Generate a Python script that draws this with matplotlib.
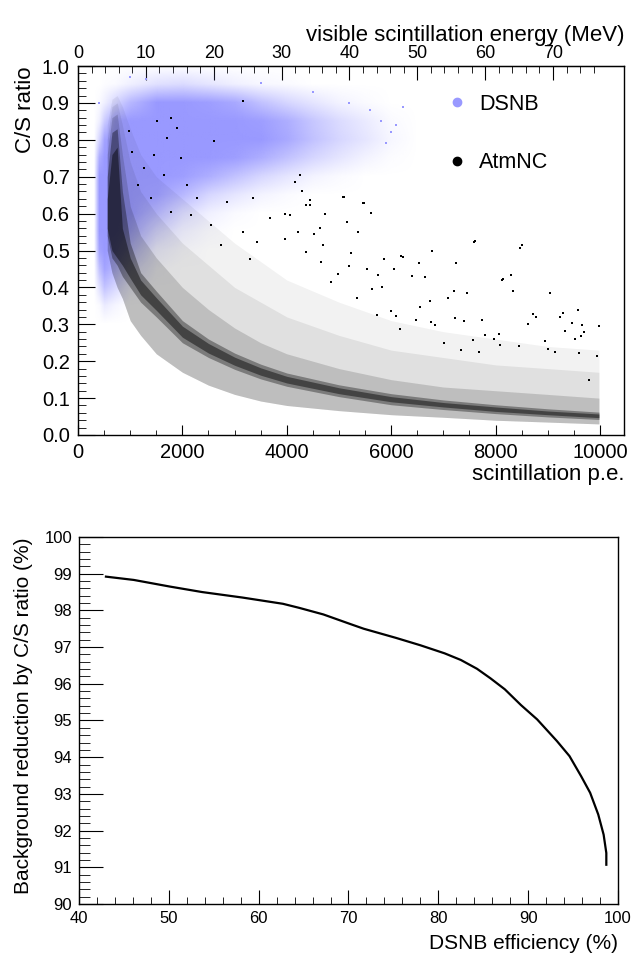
import matplotlib
matplotlib.use("Agg")
import numpy as np
import matplotlib.pyplot as plt
from matplotlib.lines import Line2D
from matplotlib.image import NonUniformImage
from matplotlib.colors import LinearSegmentedColormap
from matplotlib.ticker import MultipleLocator, FixedLocator

plt.rcParams['font.family'] = ['Liberation Sans', 'DejaVu Sans']

PE_PER_MEV = 130.0
DSNB_COLOR = '#9999ff'

# DSNB event density (0..1), on a p.e. x C/S grid
dsnb_pe = [300, 400, 500, 700, 1000, 1500, 2000, 2500, 3000, 3500, 4000, 4500, 5000, 5500, 6000, 6500]
dsnb_cs = [0.30, 0.35, 0.40, 0.45, 0.50, 0.55, 0.60, 0.65, 0.70, 0.75, 0.80, 0.85, 0.90, 0.95, 1.00]
dsnb_density = [
    # one row per C/S value, one column per p.e. value
    [0, 0.00, 0.00, 0.00, 0.00, 0.00, 0.00, 0.00, 0.00, 0.00, 0.00, 0.00, 0.00, 0.00, 0.00, 0],  # 0.30
    [0, 0.05, 0.20, 0.10, 0.00, 0.00, 0.00, 0.00, 0.00, 0.00, 0.00, 0.00, 0.00, 0.00, 0.00, 0],  # 0.35
    [0, 0.30, 0.60, 0.40, 0.10, 0.00, 0.00, 0.00, 0.00, 0.00, 0.00, 0.00, 0.00, 0.00, 0.00, 0],  # 0.40
    [0, 0.60, 0.90, 0.70, 0.30, 0.05, 0.00, 0.00, 0.00, 0.00, 0.00, 0.00, 0.00, 0.00, 0.00, 0],  # 0.45
    [0, 0.90, 1.00, 0.90, 0.60, 0.15, 0.05, 0.00, 0.00, 0.00, 0.00, 0.00, 0.00, 0.00, 0.00, 0],  # 0.50
    [0, 1.00, 1.00, 1.00, 0.85, 0.40, 0.15, 0.05, 0.00, 0.00, 0.00, 0.00, 0.00, 0.00, 0.00, 0],  # 0.55
    [0, 1.00, 1.00, 1.00, 1.00, 0.70, 0.35, 0.15, 0.05, 0.00, 0.00, 0.00, 0.00, 0.00, 0.00, 0],  # 0.60
    [0, 1.00, 1.00, 1.00, 1.00, 0.95, 0.70, 0.40, 0.25, 0.12, 0.05, 0.00, 0.00, 0.00, 0.00, 0],  # 0.65
    [0, 1.00, 1.00, 1.00, 1.00, 1.00, 0.95, 0.80, 0.60, 0.40, 0.25, 0.12, 0.05, 0.00, 0.00, 0],  # 0.70
    [0, 0.80, 1.00, 1.00, 1.00, 1.00, 1.00, 1.00, 0.95, 0.80, 0.60, 0.40, 0.25, 0.12, 0.03, 0],  # 0.75
    [0, 0.40, 0.90, 1.00, 1.00, 1.00, 1.00, 1.00, 1.00, 1.00, 0.85, 0.60, 0.40, 0.25, 0.08, 0],  # 0.80
    [0, 0.15, 0.50, 0.90, 1.00, 1.00, 1.00, 1.00, 1.00, 0.95, 0.80, 0.55, 0.35, 0.20, 0.05, 0],  # 0.85
    [0, 0.05, 0.15, 0.40, 0.70, 1.00, 1.00, 0.95, 0.85, 0.60, 0.40, 0.25, 0.12, 0.05, 0.00, 0],  # 0.90
    [0, 0.00, 0.03, 0.05, 0.15, 0.30, 0.35, 0.25, 0.15, 0.08, 0.05, 0.00, 0.00, 0.00, 0.00, 0],  # 0.95
    [0, 0.00, 0.00, 0.00, 0.00, 0.00, 0.00, 0.00, 0.00, 0.00, 0.00, 0.00, 0.00, 0.00, 0.00, 0],  # 1.00
]
dsnb_dots_x = [6230, 6000, 5800, 5900, 5600, 400, 1000, 1300, 4500, 3500, 5200, 6100]
dsnb_dots_y = [0.89, 0.82, 0.85, 0.79, 0.88, 0.90, 0.97, 0.965, 0.93, 0.955, 0.90, 0.84]

# AtmNC band outlines: for each p.e. value, C/S of the lower edge, the dense band,
# the halo above it and the sparse spread further up
atm_pe = [560, 650, 750, 850, 1000, 1200, 1500, 2000, 2500, 3000, 3500, 4000, 5000, 6000, 7000, 8000, 9000, 9980]
atm_edge_lo = [0.50, 0.44, 0.40, 0.37, 0.31, 0.27, 0.22, 0.17, 0.135, 0.11, 0.092, 0.08, 0.066, 0.055, 0.048, 0.04, 0.035, 0.03]
atm_band_lo = [0.54, 0.48, 0.46, 0.43, 0.40, 0.36, 0.32, 0.25, 0.21, 0.178, 0.152, 0.132, 0.104, 0.082, 0.069, 0.058, 0.049, 0.042]
atm_core_lo = [0.56, 0.50, 0.48, 0.46, 0.425, 0.38, 0.338, 0.265, 0.222, 0.189, 0.162, 0.141, 0.112, 0.09, 0.076, 0.064, 0.055, 0.047]
atm_core_hi = [0.64, 0.76, 0.78, 0.56, 0.48, 0.42, 0.372, 0.295, 0.248, 0.211, 0.182, 0.159, 0.128, 0.104, 0.088, 0.076, 0.065, 0.057]
atm_band_hi = [0.70, 0.82, 0.83, 0.66, 0.52, 0.44, 0.39, 0.31, 0.26, 0.222, 0.192, 0.168, 0.136, 0.112, 0.095, 0.082, 0.071, 0.062]
atm_halo_hi = [0.76, 0.86, 0.87, 0.76, 0.62, 0.54, 0.48, 0.40, 0.34, 0.29, 0.25, 0.22, 0.18, 0.15, 0.13, 0.12, 0.11, 0.10]
atm_spread_mid = [0.80, 0.89, 0.90, 0.84, 0.74, 0.66, 0.60, 0.52, 0.46, 0.40, 0.36, 0.32, 0.27, 0.23, 0.21, 0.19, 0.18, 0.17]
atm_spread_hi = [0.84, 0.91, 0.92, 0.89, 0.83, 0.76, 0.70, 0.64, 0.58, 0.52, 0.47, 0.42, 0.36, 0.31, 0.28, 0.26, 0.24, 0.23]

# isolated AtmNC events
atm_dots_x = [1775, 1900, 1710, 1450, 1965, 1260, 1640, 2090, 1140, 2280, 1390, 2600, 3170, 1040,
              980, 1520, 1775, 2160, 2540, 2860, 3360, 3680, 4060, 4260, 4450, 5080, 5460, 4700,
              6220, 3170, 2730, 3430, 3300,
              5100, 5470, 5620, 5150, 5370, 4740, 7600, 8510, 6780, 6190, 5860, 6530, 7250, 6050,
              6640, 6390, 8150, 8290, 8330, 9050, 7450, 7200, 7080, 6740, 6560, 8720, 9580, 9290,
              9980, 9660, 9470, 9330, 9700, 8950, 8620, 8060, 7740, 7400, 7230, 6840, 6470, 7800,
              7960, 7570, 9520, 9600, 9940, 9140, 9000, 8450, 8080, 7690, 7340, 7020, 6770, 6160,
              5990, 5720, 6090, 5540, 5740, 5640, 5830, 5350, 5190, 5230, 4980, 4840, 4660, 4370,
              4440, 4370, 3960, 3970, 4210, 4520, 4640, 4300, 4160, 7580, 8120, 8470, 9780, 9630,
              9240, 8780]
atm_dots_y = [0.859, 0.832, 0.804, 0.759, 0.750, 0.723, 0.705, 0.678, 0.678, 0.641, 0.641, 0.796,
              0.905, 0.768, 0.823, 0.850, 0.605, 0.596, 0.569, 0.632, 0.641, 0.587, 0.596, 0.705,
              0.623, 0.646, 0.628, 0.514, 0.483, 0.551, 0.514, 0.524, 0.478,
              0.644, 0.628, 0.601, 0.576, 0.549, 0.598, 0.527, 0.514, 0.500, 0.486, 0.476, 0.467,
              0.465, 0.449, 0.427, 0.430, 0.424, 0.433, 0.390, 0.386, 0.384, 0.391, 0.372, 0.362,
              0.348, 0.327, 0.340, 0.330, 0.296, 0.297, 0.304, 0.283, 0.280, 0.254, 0.302, 0.275,
              0.313, 0.310, 0.318, 0.299, 0.312, 0.270, 0.261, 0.258, 0.260, 0.223, 0.215, 0.225,
              0.232, 0.240, 0.243, 0.225, 0.229, 0.250, 0.307, 0.286, 0.337, 0.326, 0.323, 0.451,
              0.433, 0.397, 0.401, 0.372, 0.457, 0.492, 0.437, 0.415, 0.470, 0.495, 0.636, 0.622,
              0.598, 0.530, 0.549, 0.546, 0.562, 0.660, 0.685, 0.524, 0.420, 0.506, 0.149, 0.267,
              0.320, 0.320]

# background reduction vs signal efficiency
eff = [43.0, 46.1, 50.1, 53.7, 58.2, 62.7, 64.5, 67.2, 70.3, 71.7, 75.3, 78.0, 80.7, 82.5, 84.3,
       85.8, 87.4, 89.2, 91.0, 93.2, 94.6, 95.9, 96.9, 97.8, 98.4, 98.7, 98.7]
bkg_red = [98.92, 98.83, 98.65, 98.50, 98.35, 98.18, 98.07, 97.89, 97.62, 97.50, 97.25, 97.05,
           96.83, 96.65, 96.41, 96.15, 95.85, 95.42, 95.03, 94.44, 94.03, 93.48, 93.03, 92.44,
           91.89, 91.39, 91.07]

dsnb_cmap = LinearSegmentedColormap.from_list('dsnb', [(0.6, 0.6, 1.0, 0.0), (0.6, 0.6, 1.0, 1.0)])

fig = plt.figure(figsize=(6.32, 9.58), dpi=100)

# ---- top: C/S ratio scatter ----
ax1 = fig.add_axes([78 / 632, (958 - 435) / 958, 546 / 632, 369 / 958])

im = NonUniformImage(ax1, interpolation='bilinear', cmap=dsnb_cmap,
                     extent=(dsnb_pe[0], dsnb_pe[-1], dsnb_cs[0], dsnb_cs[-1]), zorder=1)
im.set_data(dsnb_pe, dsnb_cs, np.array(dsnb_density))
im.set_clim(0, 1)
ax1.add_image(im)
ax1.scatter(dsnb_dots_x, dsnb_dots_y, s=4, marker='s', color=DSNB_COLOR, lw=0, zorder=2)

# nested layers, each adding a little more black towards the band centre
layers = [(atm_edge_lo, atm_spread_hi, 0.05),
          (atm_edge_lo, atm_spread_mid, 0.07),
          (atm_edge_lo, atm_halo_hi, 0.15),
          (atm_band_lo, atm_band_hi, 0.35),
          (atm_core_lo, atm_core_hi, 0.45)]
for lo, hi, a in layers:
    ax1.fill_between(atm_pe, lo, hi, color='black', alpha=a, lw=0, zorder=3)
ax1.scatter(atm_dots_x, atm_dots_y, s=4, marker='s', color='black', lw=0, zorder=4)

ax1.set_xlim(0, 10460)
ax1.set_ylim(0, 1.0)
ax1.xaxis.set_major_locator(MultipleLocator(2000))
ax1.xaxis.set_minor_locator(MultipleLocator(500))
ax1.yaxis.set_major_locator(MultipleLocator(0.1))
ax1.yaxis.set_minor_locator(MultipleLocator(0.02))
ax1.yaxis.set_major_formatter(plt.FormatStrFormatter('%.1f'))
ax1.tick_params(axis='x', which='major', direction='in', length=7, labelsize=14.5, pad=6)
ax1.tick_params(axis='x', which='minor', direction='in', length=3.5)
ax1.tick_params(axis='y', which='major', direction='in', length=12, labelsize=14.5, pad=6)
ax1.tick_params(axis='y', which='minor', direction='in', length=6)
ax1.set_xlabel('scintillation p.e.', fontsize=16, loc='right', labelpad=1)
ax1.set_ylabel('C/S ratio', fontsize=16, loc='top', labelpad=4)

top = ax1.secondary_xaxis('top', functions=(lambda p: p / PE_PER_MEV, lambda e: e * PE_PER_MEV))
top.xaxis.set_major_locator(FixedLocator(np.arange(0, 71, 10)))
top.xaxis.set_minor_locator(FixedLocator(np.arange(0, 77, 2)))
top.tick_params(which='major', direction='in', length=10, labelsize=13, pad=3)
top.tick_params(which='minor', direction='in', length=5)
top.set_xlabel('visible scintillation energy (MeV)', fontsize=16, loc='right', labelpad=3)

handles = [Line2D([], [], ls='none', marker='o', ms=6, color=DSNB_COLOR),
           Line2D([], [], ls='none', marker='o', ms=6, color='black')]
ax1.legend(handles, ['DSNB', 'AtmNC'], loc='upper left', bbox_to_anchor=(0.675, 0.925),
           frameon=False, fontsize=15.5, labelspacing=1.75, handlelength=1.0,
           handletextpad=0.5, borderpad=0, borderaxespad=0)

# ---- bottom: background reduction ----
ax2 = fig.add_axes([79 / 632, (958 - 904) / 958, 539 / 632, 367 / 958])
ax2.plot(eff, bkg_red, color='black', lw=1.6)
ax2.set_xlim(40, 100)
ax2.set_ylim(90, 100)
ax2.xaxis.set_major_locator(MultipleLocator(10))
ax2.xaxis.set_minor_locator(MultipleLocator(2))
ax2.yaxis.set_major_locator(MultipleLocator(1))
ax2.yaxis.set_minor_locator(MultipleLocator(0.2))
ax2.tick_params(axis='x', which='major', direction='in', length=10, labelsize=12, pad=5)
ax2.tick_params(axis='x', which='minor', direction='in', length=5)
ax2.tick_params(axis='y', which='major', direction='in', length=17, labelsize=12, pad=5)
ax2.tick_params(axis='y', which='minor', direction='in', length=8)
ax2.set_xlabel('DSNB efficiency (%)', fontsize=15, loc='right', labelpad=6)
ax2.set_ylabel('Background reduction by C/S ratio (%)', fontsize=15, loc='top', labelpad=8)

for ax in (ax1, ax2):
    for sp in ax.spines.values():
        sp.set_linewidth(1.0)

fig.savefig('out.png', dpi=100)
